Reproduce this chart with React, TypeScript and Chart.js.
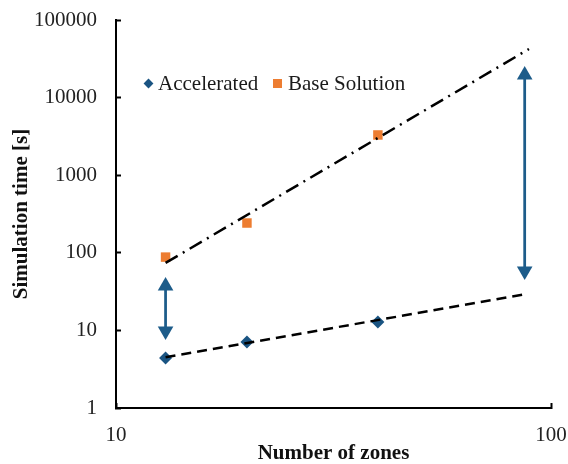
import React, { useEffect, useRef } from "react";
import { Chart, registerables } from "chart.js";

Chart.register(...registerables);

// ---- data ----
const zones = [13, 20, 40];
const acceleratedTime = [4.4, 7.1, 12.8];
const baseTime = [88, 242, 3300];

const baseTrendX = [13, 89];
const baseTrendY = [74, 42300];
const accelTrendX = [13, 87.6];
const accelTrendY = [4.5, 29.4];

const arrowLeftX = [13, 13];
const arrowLeftY = [37.3, 9.8];
const arrowRightX = [87, 87];
const arrowRightY = [19550, 58.3];

const xTicks = [10, 100];
const yTicks = [1, 10, 100, 1000, 10000, 100000];

const seriesNames = ["Accelerated", "Base Solution"];
const xTitle = "Number of zones";
const yTitle = "Simulation time [s]";

const pts = (xs: number[], ys: number[]) => xs.map((x, i) => ({ x, y: ys[i] }));

const BLUE = "#1A5482";
const ARROW = "#1D5C8A";
const ORANGE = "#ED7D31";
const FONT = '"Liberation Serif", "Times New Roman", serif';

const clearPadding = (s: any) => {
  s.paddingTop = 0;
  s.paddingBottom = 0;
  s.paddingLeft = 0;
  s.paddingRight = 0;
};

export default function App() {
  const ref = useRef<HTMLCanvasElement | null>(null);

  useEffect(() => {
    if (!ref.current) return;
    const chart = new Chart(ref.current, {
      type: "scatter",
      data: {
        datasets: [
          {
            label: seriesNames[0],
            data: pts(zones, acceleratedTime),
            pointStyle: "rectRot",
            pointRadius: 6.5,
            pointBorderWidth: 0,
            backgroundColor: BLUE,
            borderColor: BLUE,
            showLine: false,
            order: 2,
          },
          {
            label: seriesNames[1],
            data: pts(zones, baseTime),
            pointStyle: "rect",
            pointRadius: 6.7,
            pointBorderWidth: 0,
            backgroundColor: ORANGE,
            borderColor: ORANGE,
            showLine: false,
            order: 2,
          },
          {
            label: "base trend",
            data: pts(baseTrendX, baseTrendY),
            showLine: true,
            borderColor: "#000",
            borderWidth: 2.5,
            borderDash: [14, 6, 2, 6],
            pointRadius: 0,
            order: 0,
          },
          {
            label: "accel trend",
            data: pts(accelTrendX, accelTrendY),
            showLine: true,
            borderColor: "#000",
            borderWidth: 2.5,
            borderDash: [10, 6],
            pointRadius: 0,
            order: 0,
          },
          {
            label: "arrow left",
            data: pts(arrowLeftX, arrowLeftY),
            showLine: true,
            borderColor: ARROW,
            backgroundColor: ARROW,
            borderWidth: 2.75,
            pointStyle: "triangle",
            pointRadius: 9,
            pointBorderWidth: 0,
            pointRotation: [0, 180],
            order: 1,
          },
          {
            label: "arrow right",
            data: pts(arrowRightX, arrowRightY),
            showLine: true,
            borderColor: ARROW,
            backgroundColor: ARROW,
            borderWidth: 2.75,
            pointStyle: "triangle",
            pointRadius: 9,
            pointBorderWidth: 0,
            pointRotation: [0, 180],
            order: 1,
          },
        ],
      },
      options: {
        responsive: false,
        animation: false,
        devicePixelRatio: 1,
        layout: { padding: { top: 20, right: 17, bottom: 0, left: 0 } },
        plugins: { legend: { display: false }, tooltip: { enabled: false } },
        scales: {
          x: {
            type: "logarithmic",
            position: "bottom",
            min: 10,
            max: 100,
            afterBuildTicks: (s: any) => {
              s.ticks = xTicks.map((v) => ({ value: v }));
            },
            afterFit: (s: any) => {
              s.height = 56;
              clearPadding(s);
            },
            ticks: {
              callback: (v: any) => String(v),
              font: { family: FONT, size: 21 },
              color: "#222",
              padding: 20,
              maxRotation: 0,
              autoSkip: false,
            },
            grid: {
              drawOnChartArea: false,
              drawTicks: true,
              tickLength: -5,
              tickColor: "#000",
              tickWidth: 2,
            },
            border: { color: "#000", width: 2 },
            title: {
              display: true,
              text: xTitle,
              color: "#111",
              font: { family: FONT, size: 21, weight: "bold", lineHeight: 1 },
              padding: 0,
            },
          },
          y: {
            type: "logarithmic",
            position: "left",
            min: 1,
            max: 100000,
            afterBuildTicks: (s: any) => {
              s.ticks = yTicks.map((v) => ({ value: v }));
            },
            afterFit: (s: any) => {
              s.width = 116;
              clearPadding(s);
            },
            ticks: {
              callback: (v: any) => String(v),
              font: { family: FONT, size: 21 },
              color: "#222",
              padding: 24,
              autoSkip: false,
            },
            grid: {
              drawOnChartArea: false,
              drawTicks: true,
              tickLength: -5,
              tickColor: "#000",
              tickWidth: 2,
            },
            border: { color: "#000", width: 2 },
            title: {
              display: true,
              text: yTitle,
              color: "#111",
              font: { family: FONT, size: 21, weight: "bold", lineHeight: 1 },
              padding: { top: 11, bottom: 0 },
            },
          },
        },
      },
    } as any);
    return () => chart.destroy();
  }, []);

  const textStyle: React.CSSProperties = {
    position: "absolute",
    top: 71,
    fontFamily: FONT,
    fontSize: 21,
    lineHeight: "24px",
    color: "#1a1a1a",
    whiteSpace: "nowrap",
  };

  return (
    <div
      style={{
        position: "fixed",
        left: 0,
        top: 0,
        width: 568,
        height: 464,
        background: "#fff",
      }}
    >
      <canvas ref={ref} width={568} height={464} style={{ display: "block" }} />
      <div
        style={{
          position: "absolute",
          left: 144.5,
          top: 79.5,
          width: 7,
          height: 7,
          background: BLUE,
          transform: "rotate(45deg)",
        }}
      />
      <span style={{ ...textStyle, left: 158 }}>{seriesNames[0]}</span>
      <div
        style={{
          position: "absolute",
          left: 272.5,
          top: 78.5,
          width: 9,
          height: 9,
          background: ORANGE,
        }}
      />
      <span style={{ ...textStyle, left: 288 }}>{seriesNames[1]}</span>
    </div>
  );
}
